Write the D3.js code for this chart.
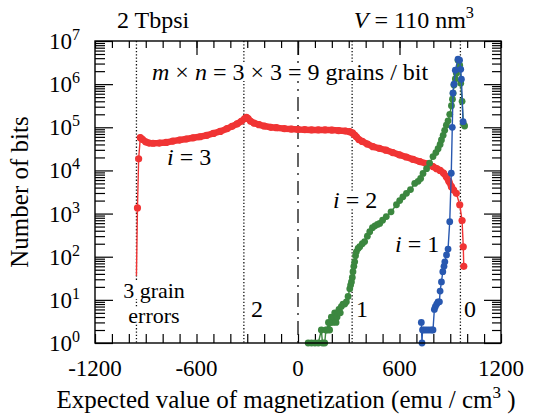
<!DOCTYPE html>
<html>
<head>
<meta charset="utf-8">
<script src="https://cdn.jsdelivr.net/npm/d3@7"></script>
<style>
body { margin: 0; background: #fff; }
</style>
</head>
<body>
<svg id="chart" width="541" height="420"></svg>
<script>
// expected magnetization (emu/cm3) vs number of bits
const xTickLabels = [-1200, -600, 0, 600, 1200];
const yDecades = [1, 10, 100, 1e3, 1e4, 1e5, 1e6, 1e7];
const boundaries = [-955, -320, 320, 960];

// i = 3 grain errors
const red = [
    [-955, 36], [-949, 1350], [-942, 18600], [-932, 57500], [-920, 52500], [-900, 46000],
    [-880, 43000], [-857, 42700], [-820, 43000], [-780, 44500], [-740, 47800], [-700, 50500],
    [-660, 53500], [-620, 57000], [-580, 60300], [-540, 65000], [-500, 72000], [-460, 80000],
    [-420, 93000], [-390, 105000], [-360, 120000], [-335, 138000], [-315, 158000], [-305, 170000],
    [-295, 158000], [-280, 138000], [-260, 125000], [-230, 115000], [-200, 107000], [-160, 100000],
    [-128, 97700], [-80, 93000], [-40, 91000], [0, 89000], [40, 88000], [80, 87000], [120, 87000],
    [160, 87000], [200, 86000], [240, 84000], [280, 82000], [306, 79000], [322, 74000], [335, 66000],
    [345, 60000], [360, 52000], [380, 47000], [410, 41000], [443, 35500], [480, 32500], [520, 29500],
    [560, 26000], [600, 23000], [640, 20500], [680, 18000], [720, 16000], [760, 14300], [798, 12300],
    [820, 11000], [840, 10000], [860, 8700], [877, 7100], [892, 5600], [907, 4200], [920, 3500],
    [936, 2950], [956, 1600], [970, 690], [977, 170], [980, 60]
];

// i = 2
const green = [
    [60, 1], [80, 1], [100, 1], [120, 1], [138, 2], [145, 1], [158, 1], [165, 2], [172, 2], [180, 3],
    [187, 2], [192, 3], [197, 4], [205, 3], [212, 4], [217, 5], [225, 3], [231, 4], [237, 5], [242, 6],
    [250, 5], [256, 7], [266, 8], [276, 8], [286, 9], [296, 12], [306, 18], [311, 22], [316, 26],
    [321, 33], [325, 45], [330, 60], [335, 76], [340, 105], [345, 130], [355, 155], [365, 170],
    [380, 200], [394, 224], [410, 300], [424, 380], [440, 470], [455, 520], [470, 560], [483, 590],
    [500, 700], [522, 850], [550, 1100], [582, 1600], [601, 2000], [620, 2450], [641, 2950],
    [665, 3600], [690, 5000], [710, 5600], [725, 6500], [739, 8500], [760, 11000], [778, 14800],
    [798, 21000], [815, 26000], [828, 32000], [840, 40000], [848, 51000], [858, 65000], [867, 85000],
    [877, 112000], [887, 141000], [897, 200000], [907, 316000], [913, 447000], [917, 617000],
    [922, 955000], [930, 1320000], [936, 1780000], [946, 3600000], [956, 2750000], [962, 1050000],
    [970, 400000], [977, 123000], [985, 107000]
];

// i = 1
const blue = [
    [729, 3], [733, 1], [736, 2], [748, 2], [762, 2], [776, 2], [790, 2], [798, 2], [806, 6],
    [812, 7], [820, 8], [828, 9], [836, 9], [840, 16], [848, 26], [856, 45], [863, 60], [868, 76],
    [878, 110], [887, 150], [897, 650], [906, 8600], [912, 100000], [916, 620000], [922, 1000000],
    [930, 2100000], [946, 3800000], [955, 3600000], [962, 2200000], [966, 1300000], [976, 135000]
];

const svg = d3.select("#chart");
const margin = { top: 41, right: 40, bottom: 77, left: 95 };
const W = +svg.attr("width"), H = +svg.attr("height");
const FONT = "'Liberation Serif', 'Times New Roman', Times, 'DejaVu Serif', serif";

const x = d3.scaleLinear().domain([-1200, 1200]).range([margin.left, W - margin.right]);
const y = d3.scaleLog().domain([1, 1e7]).range([H - margin.bottom, margin.top]);
const x0 = x.range()[0], x1 = x.range()[1], y0 = y.range()[0], y1 = y.range()[1];

const xMinor = d3.range(-1200, 1201, 100);
const yMinor = [];
yDecades.slice(0, -1).forEach(d => { for (let k = 2; k < 10; k++) yMinor.push(d * k); });

// ticks (all pointing inward)
function ticks(axis, tx, ty) {
    const g = svg.append("g").attr("transform", `translate(${tx},${ty})`).call(axis);
    g.select(".domain").remove();
    g.selectAll("line").attr("stroke-width", 1.2);
    return g;
}
ticks(d3.axisBottom(x).tickValues(xMinor).tickSize(-9).tickFormat(""), 0, y0);
ticks(d3.axisTop(x).tickValues(xMinor).tickSize(-7).tickFormat(""), 0, y1);
ticks(d3.axisTop(x).tickValues([-600, 0, 600]).tickSize(-14).tickFormat(""), 0, y1);
ticks(d3.axisLeft(y).tickValues(yDecades).tickSize(-18).tickFormat(""), x0, 0);
ticks(d3.axisLeft(y).tickValues(yMinor).tickSize(-10).tickFormat(""), x0, 0);
ticks(d3.axisRight(y).tickValues(yDecades).tickSize(-17).tickFormat(""), x1, 0);
ticks(d3.axisRight(y).tickValues(yMinor).tickSize(-9).tickFormat(""), x1, 0);

// boundary lines
svg.selectAll(".bound").data(boundaries).enter().append("line")
    .attr("x1", d => x(d)).attr("x2", d => x(d))
    .attr("y1", y1).attr("y2", y0)
    .attr("stroke", "#111").attr("stroke-width", 1.3)
    .attr("stroke-dasharray", "1.3,2");
svg.append("line")
    .attr("x1", x(0)).attr("x2", x(0)).attr("y1", y1).attr("y2", y0)
    .attr("stroke", "#111").attr("stroke-width", 1.3)
    .attr("stroke-dasharray", "14,6,2,6");

// series
const line = d3.line().x(d => x(d[0])).y(d => y(d[1]));
function series(data, color, r) {
    svg.append("path").datum(data).attr("d", line)
        .attr("fill", "none").attr("stroke", color).attr("stroke-width", 1.4);
    svg.append("g").selectAll("circle").data(data).enter().append("circle")
        .attr("cx", d => x(d[0])).attr("cy", d => y(d[1])).attr("r", r)
        .attr("fill", color);
}
const redCore = red.filter(d => d[0] >= -932 && d[0] <= 925);
svg.append("path").datum(redCore).attr("d", line)
    .attr("fill", "none").attr("stroke", "#f03434").attr("stroke-width", 6.5)
    .attr("stroke-linejoin", "round").attr("stroke-linecap", "round");
series(red.slice(1), "#f03434", 3.6);
svg.append("path").datum(red.slice(0, 2)).attr("d", line)
    .attr("fill", "none").attr("stroke", "#f03434").attr("stroke-width", 1.4);
series(green, "#3b873f", 3.4);
series(blue, "#2858b0", 3.4);

// frame
svg.append("rect").attr("x", x0).attr("y", y1).attr("width", x1 - x0).attr("height", y0 - y1)
    .attr("fill", "none").attr("stroke", "#000").attr("stroke-width", 1.4);

// tick labels
svg.append("g").selectAll("text").data(xTickLabels).enter().append("text")
    .attr("x", d => x(d)).attr("y", 376).attr("text-anchor", "middle")
    .style("font-family", FONT).style("font-size", "23px").text(d => d);
const yl = svg.append("g").selectAll("text").data(yDecades).enter().append("text")
    .attr("x", 80).attr("y", d => y(d) + 8).attr("text-anchor", "end")
    .style("font-family", FONT).style("font-size", "23px");
yl.append("tspan").text("10");
yl.append("tspan").attr("dy", -9).style("font-size", "16px").text(d => Math.round(Math.log10(d)));

// text with optional italic/superscript parts, optional white box behind
function label(px, py, parts, anchor, size, bg) {
    const t = svg.append("text").attr("x", px).attr("y", py)
        .attr("text-anchor", anchor || "start")
        .style("font-family", FONT).style("font-size", size + "px");
    let raised = false;
    parts.forEach(p => {
        const s = t.append("tspan").text(p.t);
        if (p.i) s.style("font-style", "italic");
        if (p.br) s.attr("x", px).attr("dy", p.br);
        if (p.sup) { s.attr("dy", -10).style("font-size", (size * 0.68) + "px"); raised = true; }
        else if (raised) { s.attr("dy", 10); raised = false; }
    });
    if (bg) {
        const b = t.node().getBBox();
        svg.insert("rect", () => t.node())
            .attr("x", b.x - 1).attr("y", b.y + 4).attr("width", b.width + 2).attr("height", b.height - 8)
            .attr("fill", "#fff");
    }
    return t;
}

label(117, 28, [{ t: "2 Tbpsi" }], "start", 24);
label(474, 28, [{ t: "V", i: true }, { t: " = 110 nm" }, { t: "3", sup: true }], "end", 24);
label(152, 80, [{ t: "m", i: true }, { t: " × " }, { t: "n", i: true }, { t: " = 3 × 3 = 9 grains / bit" }], "start", 24, true);
label(167, 165, [{ t: "i", i: true }, { t: " = 3" }], "start", 24, true);
label(333, 208, [{ t: "i", i: true }, { t: " = 2" }], "start", 24, true);
label(395, 252, [{ t: "i", i: true }, { t: " = 1" }], "start", 24, true);
label(154, 298, [{ t: "3 grain" }], "middle", 22, true);
label(154, 323, [{ t: "errors" }], "middle", 22, true);
label(257, 317, [{ t: "2" }], "middle", 24, true);
label(362, 317, [{ t: "1" }], "middle", 24, true);
label(470, 317, [{ t: "0" }], "middle", 24, true);

// axis titles
label(286, 408, [{ t: "Expected value of magnetization (emu / cm" }, { t: "3", sup: true }, { t: " )" }], "middle", 25);
svg.append("text")
    .attr("transform", "translate(28,192) rotate(-90)")
    .attr("text-anchor", "middle")
    .style("font-family", FONT).style("font-size", "25px")
    .text("Number of bits");
</script>
</body>
</html>
